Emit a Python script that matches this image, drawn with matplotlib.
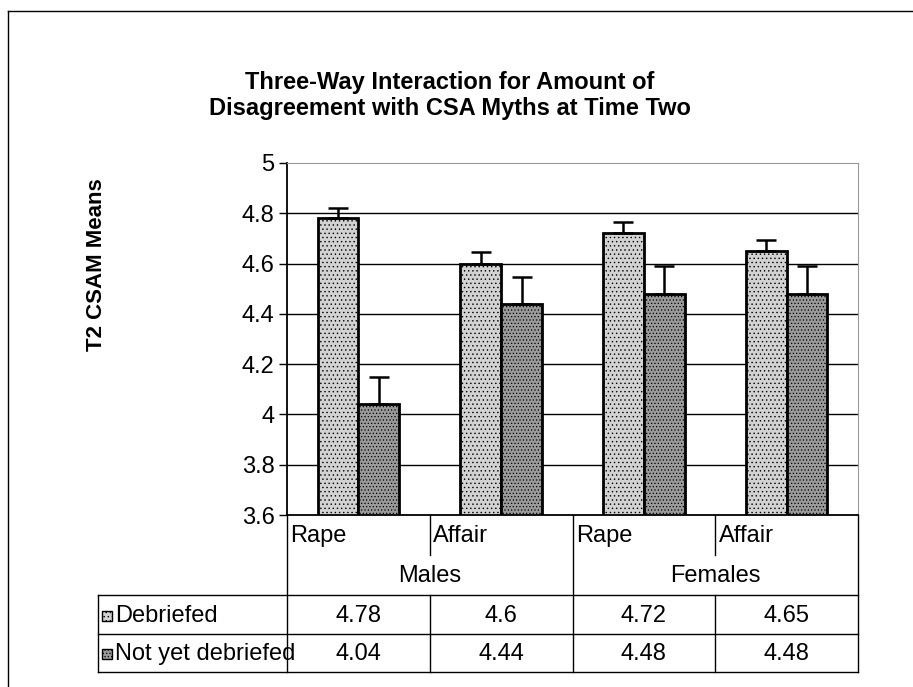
import numpy as np
import matplotlib
matplotlib.use("Agg")
import matplotlib.pyplot as plt
from matplotlib.lines import Line2D
from matplotlib.patches import Rectangle

# data
conditions = ["Rape", "Affair", "Rape", "Affair"]
groups = ["Males", "Females"]
series = ["Debriefed", "Not yet debriefed"]
debriefed = [4.78, 4.6, 4.72, 4.65]
not_yet = [4.04, 4.44, 4.48, 4.48]
debriefed_err = [0.04, 0.045, 0.045, 0.045]
not_yet_err = [0.11, 0.105, 0.11, 0.11]
yticks = [3.6, 3.8, 4, 4.2, 4.4, 4.6, 4.8, 5]

W, H = 913, 687
plt.rcParams['font.family'] = ['Liberation Sans', 'DejaVu Sans']
plt.rcParams['hatch.linewidth'] = 0.5
fig = plt.figure(figsize=(W / 100, H / 100), dpi=100)
fig.patch.set_facecolor('white')

# pixel -> figure fraction helpers
fx = lambda x: x / W
fy = lambda y: 1 - y / H

# outer chart frame (top and left only visible)
fig.add_artist(Line2D([fx(8), 1], [fy(11), fy(11)], color='black', lw=1))
fig.add_artist(Line2D([fx(8), fx(8)], [fy(11), 0], color='black', lw=1))

# plot area
ax = fig.add_axes([fx(287), fy(515), (858 - 287) / W, (515 - 163) / H])
ax.set_xlim(0, 4)
ax.set_ylim(3.6, 5)
ax.set_yticks(yticks)
ax.set_yticklabels([f"{t:g}" for t in yticks], fontsize=17)
ax.set_xticks([])
ax.tick_params(axis='y', direction='out', length=6, width=1, pad=3)
for y in yticks[1:-1]:
    ax.axhline(y, color='black', lw=1, zorder=1)
for s in ['top', 'right']:
    ax.spines[s].set_color('#999999')
    ax.spines[s].set_linestyle((0, (2, 1)))
ax.spines['left'].set_linewidth(1.3)
ax.spines['bottom'].set_linewidth(1.3)

light, dark = '#d2d2d2', '#9a9a9a'
x = np.arange(len(conditions)) + 0.5
bw = 1 / 3.5
ax.bar(x - bw / 2, np.array(debriefed) - 3.6, bw, bottom=3.6, color=light,
       edgecolor='black', lw=2, hatch='....', zorder=3)
ax.bar(x + bw / 2, np.array(not_yet) - 3.6, bw, bottom=3.6, color=dark,
       edgecolor='black', lw=2, hatch='.....', zorder=3)
ax.errorbar(x - bw / 2, debriefed, yerr=[np.zeros(4), debriefed_err], fmt='none',
            ecolor='black', elinewidth=1.8, capsize=7, capthick=1.8, zorder=4)
ax.errorbar(x + bw / 2, not_yet, yerr=[np.zeros(4), not_yet_err], fmt='none',
            ecolor='black', elinewidth=1.8, capsize=7, capthick=1.8, zorder=4)

# data table under the plot, y in pixels from the axis bottom
tl = 98
unit = (858 - 287) / 4
left = -(287 - tl) / unit
tax = fig.add_axes([fx(tl), fy(672), (858 - tl) / W, (672 - 515) / H])
tax.set_xlim(left, 4)
tax.set_ylim(157, 0)
tax.axis('off')
lk = dict(color='black', lw=1, clip_on=False)
tax.plot([left, 4], [80, 80], **lk)
tax.plot([left, 4], [119, 119], **lk)
tax.plot([left, 4], [157, 157], **lk)
tax.plot([left, left], [80, 157], **lk)
for cx in [0, 2, 4]:
    tax.plot([cx, cx], [0, 157], **lk)
for cx in [1, 3]:
    tax.plot([cx, cx], [0, 40], **lk)
    tax.plot([cx, cx], [80, 157], **lk)

for i, c in enumerate(conditions):
    tax.text(i + 0.025, 21, c, fontsize=17, ha='left', va='center')
for j, g in enumerate(groups):
    tax.text(2 * j + 1, 61, g, fontsize=17, ha='center', va='center')
for i in range(4):
    tax.text(i + 0.5, 101, f"{debriefed[i]:g}", fontsize=17, ha='center', va='center')
    tax.text(i + 0.5, 139, f"{not_yet[i]:g}", fontsize=17, ha='center', va='center')

mw = 10 / unit
for row_y, name, col, h in [(101, series[0], light, '....'), (139, series[1], dark, '.....')]:
    tax.add_patch(Rectangle((left + 4 / unit, row_y - 5), mw, 10, facecolor=col,
                            edgecolor='black', lw=1, hatch=h, clip_on=False))
    tax.text(left + 17 / unit, row_y, name, fontsize=17, ha='left', va='center')

fig.text(fx(450), fy(82), "Three-Way Interaction for Amount of",
         fontsize=17, fontweight='bold', ha='center', va='center')
fig.text(fx(450), fy(109), "Disagreement with CSA Myths at Time Two",
         fontsize=17, fontweight='bold', ha='center', va='center')
fig.text(fx(96), fy(265), "T2 CSAM Means", fontsize=16, fontweight='bold',
         rotation=90, ha='center', va='center')

fig.savefig("out.png", dpi=100)
